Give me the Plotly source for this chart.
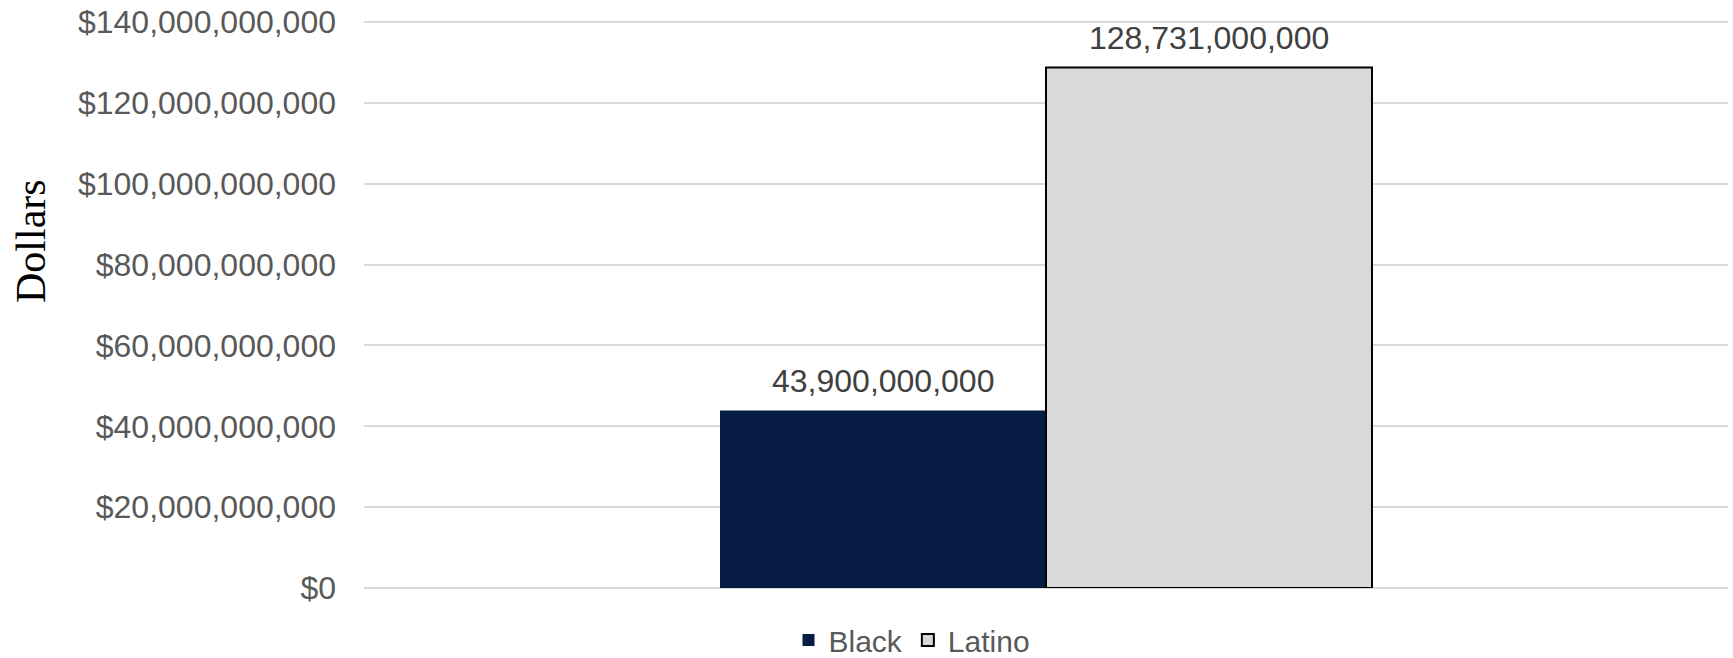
import plotly.graph_objects as go

# Data
categories = [""]
series_names = ["Black", "Latino"]
black_values = [43_900_000_000]
latino_values = [128_731_000_000]
y_tick_values = [0, 20e9, 40e9, 60e9, 80e9, 100e9, 120e9, 140e9]

W, H = 1733, 658
Y_MAX = 141e9
L, R, T, B = 364, 5, 18, 70
plot_w = W - L - R
plot_h = H - T - B

BARGAP = 0.522
bar_w = (1 - BARGAP) / 2  # width of one bar in category units

label_font = dict(family="Liberation Sans, Arial, sans-serif", size=32, color="#404040")

fig = go.Figure()
fig.add_trace(go.Bar(
    name=series_names[0],
    x=categories,
    y=black_values,
    marker=dict(color="#061C42", line=dict(color="#061C42", width=0)),
))
fig.add_trace(go.Bar(
    name=series_names[1],
    x=categories,
    y=latino_values,
    marker=dict(color="#D9D9D9", line=dict(color="#000000", width=2)),
))

# Value labels above each bar
for offset, vals in ((-bar_w / 2, black_values), (bar_w / 2, latino_values)):
    for v in vals:
        fig.add_annotation(
            x=offset,
            y=v,
            xref="x",
            yref="y",
            text=f"{v:,.0f}",
            showarrow=False,
            xanchor="center",
            yanchor="bottom",
            yshift=10,
            font=label_font,
        )

fig.update_layout(
    width=W,
    height=H,
    margin=dict(l=L, r=R, t=T, b=B, pad=0, autoexpand=False),
    paper_bgcolor="white",
    plot_bgcolor="white",
    barmode="group",
    bargap=BARGAP,
    bargroupgap=0,
    font=dict(family="Liberation Sans, Arial, sans-serif", size=32, color="#595959"),
    showlegend=True,
    legend=dict(
        orientation="h",
        xref="container",
        yref="container",
        x=912 / W,
        xanchor="center",
        y=(H - 640) / H,
        yanchor="middle",
        font=dict(size=30, color="#595959"),
        itemwidth=30,
        traceorder="normal",
        bgcolor="rgba(0,0,0,0)",
    ),
)

fig.update_yaxes(
    range=[0, Y_MAX],
    tickvals=y_tick_values,
    tickformat="$,.0f",
    showgrid=True,
    gridcolor="#D9D9D9",
    gridwidth=1.5,
    zeroline=True,
    zerolinecolor="#D9D9D9",
    zerolinewidth=1.5,
    showline=False,
    ticks="",
    ticklabelstandoff=27,
    tickfont=dict(size=32, color="#595959"),
)
fig.update_xaxes(
    range=[-0.5, 0.5],
    showgrid=False,
    showline=False,
    ticks="",
    showticklabels=False,
)

# Vertical axis title in serif type
fig.add_annotation(
    text="Dollars",
    xref="paper",
    yref="paper",
    x=(31 - L) / plot_w,
    y=(plot_h + T - 241) / plot_h,
    xanchor="center",
    yanchor="middle",
    textangle=-90,
    showarrow=False,
    font=dict(family="Liberation Serif, Times New Roman, serif", size=42, color="#000000"),
)

fig.write_html("out.html")
